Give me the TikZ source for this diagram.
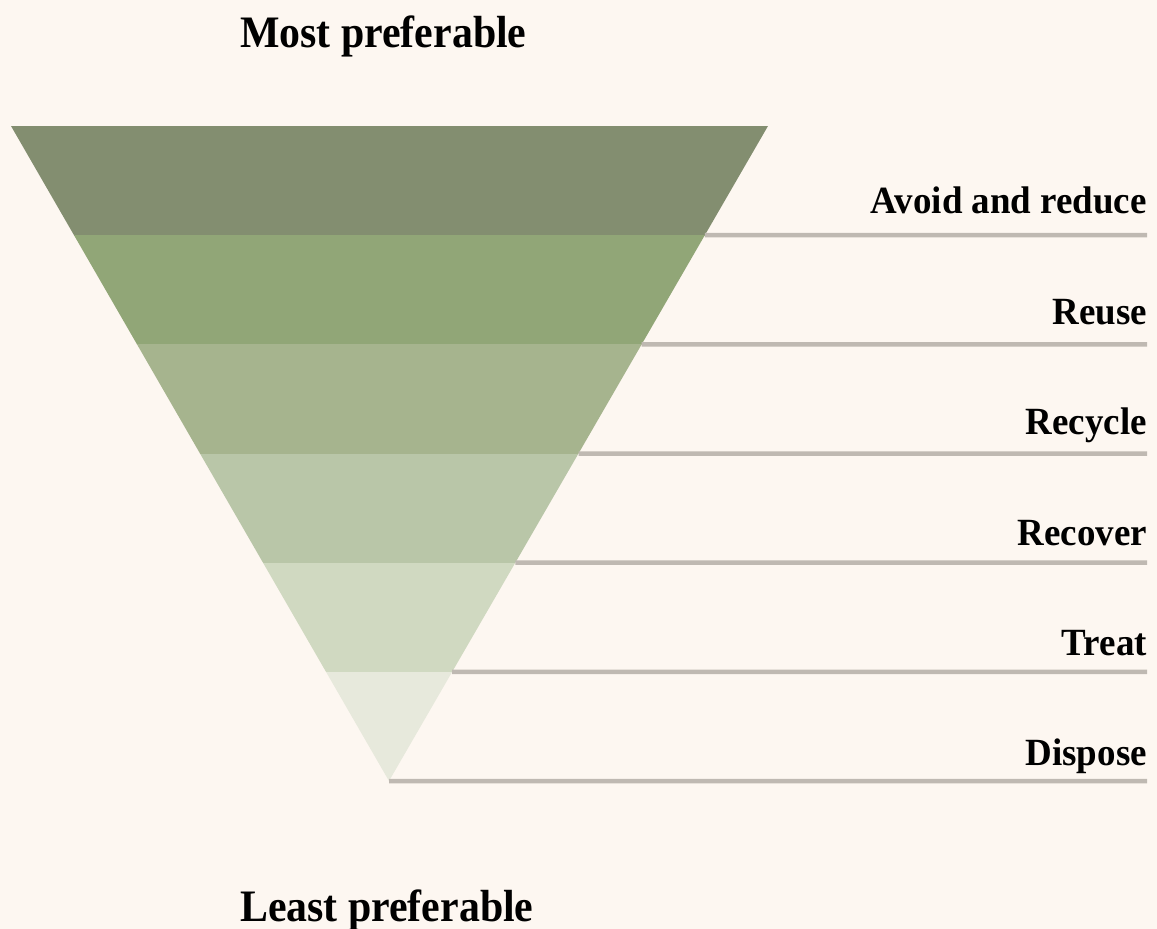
\documentclass[tikz,border=0pt]{standalone}
\usepackage{fontspec}
\setmainfont{Liberation Serif}
\newfontfamily\labelfont[FakeStretch=0.96]{Liberation Serif}
\newfontfamily\headfont[FakeStretch=0.93]{Liberation Serif}
\usetikzlibrary{calc}
\definecolor{paper}{HTML}{FDF7F1}
\definecolor{bandA}{HTML}{838E70}
\definecolor{bandB}{HTML}{91A677}
\definecolor{bandC}{HTML}{A6B48E}
\definecolor{bandD}{HTML}{B9C6A8}
\definecolor{bandE}{HTML}{D0D9C1}
\definecolor{bandF}{HTML}{E7E9DC}
\definecolor{rule}{HTML}{BFB9B2}
\tikzset{
  level/.style={font=\labelfont\bfseries\fontsize{38.5}{40}\selectfont, anchor=base east, inner sep=0pt},
  heading/.style={font=\headfont\bfseries\fontsize{45}{48}\selectfont, anchor=base west, inner sep=0pt},
  leader/.style={draw=rule, line width=4.5pt},
}
\begin{document}
\begin{tikzpicture}[x=1pt, y=-1pt]
  % page
  \fill[paper] (0,0) rectangle (1157,929);
  \useasboundingbox (0,0) rectangle (1157,929);

  % corners of the inverted triangle
  \coordinate (tl) at (11,126);
  \coordinate (tr) at (768,126);
  \coordinate (apex) at (389,781);

  % six horizontal bands clipped to the triangle
  \begin{scope}
    \clip (tl) -- (tr) -- (apex) -- cycle;
    \foreach \c [count=\i from 0] in {bandA,bandB,bandC,bandD,bandE,bandF} {
      \fill[\c] (0,{126+\i*109.17}) rectangle (800,{126+(\i+1)*109.17+0.6});
    }
  \end{scope}

  % leader lines from the right edge of the triangle to the labels
  \foreach \i/\name in {1/avoid,2/reuse,3/recycle,4/recover,5/treat,6/dispose} {
    \coordinate (s\name) at ($(tr)!{\i/6}!(apex)$);
    \coordinate (e\name) at (1147,{126+\i*109.17});
    \draw[leader] (s\name) -- (e\name);
  }

  % level labels
  \node[level] (lavoid)   at (1147,213) {Avoid and reduce};
  \node[level] (lreuse)   at (1147,324) {Reuse};
  \node[level] (lrecycle) at (1147,434) {Recycle};
  \node[level] (lrecover) at (1147,545) {Recover};
  \node[level] (ltreat)   at (1147,655) {Treat};
  \node[level] (ldispose) at (1147,765) {Dispose};

  % ends of the scale
  \node[heading] (most)  at (240,47)  {Most preferable};
  \node[heading] (least) at (240,921) {Least preferable};
\end{tikzpicture}
\end{document}
